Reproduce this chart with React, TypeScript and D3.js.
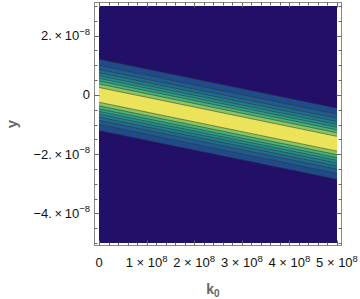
import React from "react";
import * as d3 from "d3";

// plot ranges
const k0Domain = [0, 5e8];
const yDomain = [-5e-8, 3e-8];

// ridge of the function: centre line read at both ends of k0
const ridgeK0 = [0, 5e8];
const ridgeCentre = [0, -1.65e-8];

// contour levels and their half widths (distance from ridge), outermost first
const contourLevels = [0.1, 0.2, 0.3, 0.4, 0.5, 0.6, 0.7, 0.8, 0.9];
const contourHalfWidth = [1.2e-8, 1.0e-8, 0.86e-8, 0.75e-8, 0.65e-8, 0.56e-8, 0.47e-8, 0.37e-8, 0.25e-8];

// fill for region below first level, then each band above a level
const bandColors = [
  "#220f68", "#1f4b8b", "#1f5c8d", "#1f6c8e", "#207d8e",
  "#238e8b", "#2e9f84", "#47b178", "#86c764", "#ebe35a",
];

const xTickValues = [0, 1e8, 2e8, 3e8, 4e8, 5e8];
const xTickMantissa = ["0", "1", "2", "3", "4", "5"];
const yTickValues = [-4e-8, -2e-8, 0, 2e-8];
const yTickMantissa = ["\u22124.", "\u22122.", "0", "2."];

const W = 360, H = 299;
const frame = { x0: 94.5, x1: 341.5, y0: 2.5, y1: 245.5 };

const App = () => {
  const x = d3.scaleLinear(k0Domain, [99, 337]);
  const y = d3.scaleLinear(yDomain, [243, 6]);

  const ridge = ridgeK0.map((k, i) => ({ k, c: ridgeCentre[i] }));

  const band = (hw: number) =>
    d3.area<{ k: number; c: number }>()
      .x(d => x(d.k))
      .y0(d => y(d.c - hw))
      .y1(d => y(d.c + hw))(ridge);
  const edge = (hw: number) =>
    d3.line<{ k: number; c: number }>()
      .x(d => x(d.k))
      .y(d => y(d.c + hw))(ridge);

  const xMinor = x.ticks(25);
  const yMinor = y.ticks(16);
  const isMajorX = (v: number) => Math.abs(v / 1e8 - Math.round(v / 1e8)) < 1e-6;
  const isMajorY = (v: number) => Math.abs(v / 2e-8 - Math.round(v / 2e-8)) < 1e-6;

  const tickColor = "#666";
  const font = "'Liberation Sans', Arial, sans-serif";

  return (
    <svg width={W} height={H} style={{ position: "absolute", left: 0, top: 0, background: "#fff" }}>
      <rect x={x(k0Domain[0])} y={y(yDomain[1])} width={x(k0Domain[1]) - x(k0Domain[0])}
        height={y(yDomain[0]) - y(yDomain[1])} fill={bandColors[0]} />
      {contourLevels.map((lv, i) => (
        <path key={"b" + lv} d={band(contourHalfWidth[i]) || ""} fill={bandColors[i + 1]} />
      ))}
      <g fill="none" stroke="rgba(50,50,50,0.6)" strokeWidth={0.9}>
        {contourLevels.map((lv, i) => (
          <g key={"l" + lv}>
            <path d={edge(contourHalfWidth[i]) || ""} />
            <path d={edge(-contourHalfWidth[i]) || ""} />
          </g>
        ))}
      </g>

      <rect x={frame.x0} y={frame.y0} width={frame.x1 - frame.x0} height={frame.y1 - frame.y0}
        fill="none" stroke="#888" strokeWidth={1} />
      <g stroke={tickColor} strokeWidth={1}>
        {xMinor.map(v => {
          const len = isMajorX(v) ? 5 : 3;
          const px = Math.round(x(v)) + 0.5;
          return (
            <g key={"xt" + v}>
              <line x1={px} x2={px} y1={frame.y1} y2={frame.y1 - len} />
              <line x1={px} x2={px} y1={frame.y0} y2={frame.y0 + len} />
            </g>
          );
        })}
        {yMinor.map(v => {
          const len = isMajorY(v) ? 5 : 3;
          const py = Math.round(y(v)) + 0.5;
          return (
            <g key={"yt" + v}>
              <line x1={frame.x0} x2={frame.x0 + len} y1={py} y2={py} />
              <line x1={frame.x1} x2={frame.x1 - len} y1={py} y2={py} />
            </g>
          );
        })}
      </g>

      <g fontFamily={font} fontSize={13} fill="#111">
        {xTickValues.map((v, i) => (
          <text key={"xl" + v} x={x(v)} y={267} textAnchor="middle">
            {v === 0 ? "0" : (
              <>
                <tspan>{xTickMantissa[i] + " \u00d7 10"}</tspan>
                <tspan fontSize={9.5} dy={-5.5}>8</tspan>
              </>
            )}
          </text>
        ))}
        {yTickValues.map((v, i) => (
          <text key={"yl" + v} x={90} y={y(v) + 4.5} textAnchor="end">
            {v === 0 ? "0" : (
              <>
                <tspan>{yTickMantissa[i] + "\u2009\u00d7\u200910"}</tspan>
                <tspan fontSize={9.5} dy={-5.5}>{"\u22128"}</tspan>
              </>
            )}
          </text>
        ))}
      </g>

      <g fontFamily={font} fontWeight="bold" fill="#666">
        <text x={213} y={294} fontSize={14} textAnchor="middle">
          <tspan>k</tspan>
          <tspan fontSize={10} dy={3}>0</tspan>
        </text>
        <text transform={`translate(17,${(frame.y0 + frame.y1) / 2}) rotate(-90)`} fontSize={15} textAnchor="middle">y</text>
      </g>
    </svg>
  );
};

export default App;
